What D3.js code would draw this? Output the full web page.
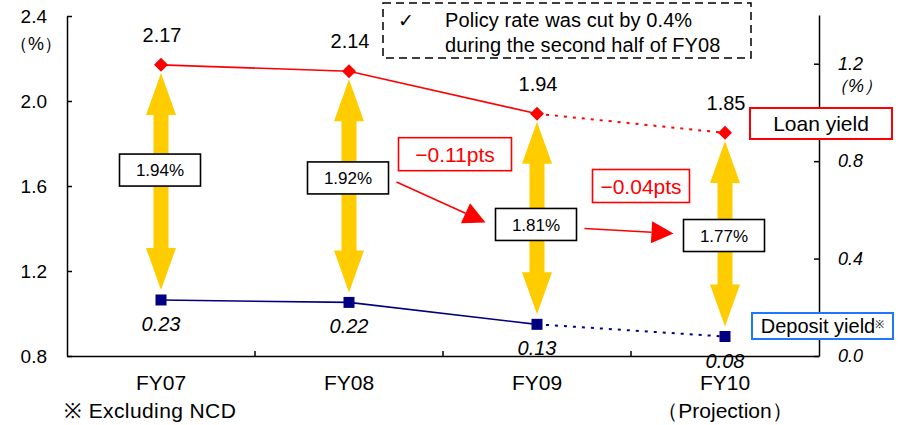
<!DOCTYPE html>
<html>
<head>
<meta charset="utf-8">
<script src="https://cdn.jsdelivr.net/npm/d3@7"></script>
<style>
  body { margin: 0; background: #fff; }
  svg { display: block; }
  text { font-family: "Liberation Sans", Arial, sans-serif; }
</style>
</head>
<body>
<svg id="chart" width="904" height="425"></svg>
<script>
// ---- data ----
const categories   = ["FY07", "FY08", "FY09", "FY10"];
const categorySub  = ["", "", "", "（Projection）"];
const loanYield    = [2.17, 2.14, 1.94, 1.85];   // left axis, %
const depositYield = [0.23, 0.22, 0.13, 0.08];   // right axis, %
const leftTicks    = [0.8, 1.2, 1.6, 2.0, 2.4];
const rightTicks   = [0.0, 0.4, 0.8, 1.2];
const projectionStart = 2;                        // segment from FY09 onward is a projection
// where each spread label sits, in left-axis units
const spreadLabelAt = [1.675, 1.638, 1.419, 1.367];
const noteLines = ["Policy rate was cut by 0.4%", "during the second half of FY08"];

const spread = loanYield.map((v, i) => +(v - depositYield[i]).toFixed(2));

const svg = d3.select("#chart");
const RED = "#ff0000", NAVY = "#000080", GOLD = "#ffcc00", BLUE = "#1e78ff";

// ---- scales ----
const x  = d3.scaleBand().domain(categories).range([67, 819]);
const cx = c => x(c) + x.bandwidth() / 2;
const yL = d3.scaleLinear().domain([0.8, 2.4]).range([356, 16]);
const yR = d3.scaleLinear().domain([0, 1.4]).range([356, 15]);

// ---- axes ----
const gL = svg.append("g").attr("transform", "translate(67,0)")
  .call(d3.axisLeft(yL).tickValues(leftTicks).tickFormat(d3.format(".1f"))
    .tickSizeInner(-5).tickSizeOuter(0).tickPadding(20));
gL.selectAll("text").style("font-size", "19px").attr("fill", "#000");
gL.selectAll("path,line").attr("stroke", "#000").attr("stroke-width", 1.5);
svg.append("text").attr("x", 36).attr("y", 50).attr("text-anchor", "middle")
  .style("font-size", "18px").text("（%）");

const gR = svg.append("g").attr("transform", "translate(819,0)")
  .call(d3.axisRight(yR).tickValues(rightTicks).tickFormat(d3.format(".1f"))
    .tickSizeInner(-5).tickSizeOuter(0).tickPadding(19));
gR.selectAll("text").style("font-size", "18px").style("font-style", "italic").attr("fill", "#000");
gR.selectAll("path,line").attr("stroke", "#000").attr("stroke-width", 1.5);
svg.append("text").attr("x", 856).attr("y", 92).attr("text-anchor", "middle")
  .style("font-size", "18px").style("font-style", "italic").text("（%）");

const gX = svg.append("g").attr("transform", "translate(0,356)")
  .call(d3.axisBottom(x).tickSize(0).tickPadding(19));
gX.selectAll("path").attr("stroke", "#000").attr("stroke-width", 1.5);
gX.selectAll("text").style("font-size", "21px").attr("fill", "#000");
// ticks at the category boundaries
gX.selectAll(".bound").data(categories.slice(1)).join("line")
  .attr("x1", d => x(d)).attr("x2", d => x(d)).attr("y1", 0).attr("y2", -5)
  .attr("stroke", "#000").attr("stroke-width", 1.5);
svg.selectAll(".sub").data(categories).join("text")
  .attr("x", d => cx(d)).attr("y", 418).attr("text-anchor", "middle")
  .style("font-size", "21px").text((d, i) => categorySub[i]);
svg.append("text").attr("x", 64).attr("y", 418).style("font-size", "21px")
  .style("letter-spacing", "0.4px").text("※ Excluding NCD");

// ---- lines ----
function drawSeries(vals, scale, color) {
  const pts = vals.map((v, i) => [cx(categories[i]), scale(v)]);
  const line = d3.line();
  svg.append("path").attr("d", line(pts.slice(0, projectionStart + 1)))
    .attr("fill", "none").attr("stroke", color).attr("stroke-width", 1.6);
  svg.append("path").attr("d", line(pts.slice(projectionStart)))
    .attr("fill", "none").attr("stroke", color).attr("stroke-width", 2)
    .attr("stroke-dasharray", "3,6");
  return pts;
}
const loanPts = drawSeries(loanYield, yL, RED);
const depPts  = drawSeries(depositYield, yR, NAVY);

// ---- yellow double arrows (loan to deposit spread) ----
function doubleArrow(xc, y1, y2) {
  const sw = 7.5, hw = 15, hl = 42;
  return d3.line()([
    [xc, y1], [xc + hw, y1 + hl], [xc + sw, y1 + hl], [xc + sw, y2 - hl], [xc + hw, y2 - hl],
    [xc, y2], [xc - hw, y2 - hl], [xc - sw, y2 - hl], [xc - sw, y1 + hl], [xc - hw, y1 + hl]
  ]) + "Z";
}
svg.selectAll(".spreadArrow").data(categories).join("path")
  .attr("d", (d, i) => doubleArrow(cx(d), loanPts[i][1] + 8, depPts[i][1] - 10))
  .attr("fill", GOLD);

// ---- markers ----
svg.selectAll(".loanMark").data(loanPts).join("path")
  .attr("transform", d => `translate(${d[0]},${d[1]}) rotate(45)`)
  .attr("d", d3.symbol(d3.symbolSquare, 98)).attr("fill", RED);
svg.selectAll(".depMark").data(depPts).join("path")
  .attr("transform", d => `translate(${d[0]},${d[1]})`)
  .attr("d", d3.symbol(d3.symbolSquare, 121)).attr("fill", NAVY);

// ---- value labels ----
svg.selectAll(".loanLbl").data(loanYield).join("text")
  .attr("x", (d, i) => loanPts[i][0] + 1).attr("y", (d, i) => loanPts[i][1] - 23)
  .attr("text-anchor", "middle").style("font-size", "20px").text(d => d.toFixed(2));
svg.selectAll(".depLbl").data(depositYield).join("text")
  .attr("x", (d, i) => depPts[i][0]).attr("y", (d, i) => depPts[i][1] + 31)
  .attr("text-anchor", "middle").style("font-size", "20px").style("font-style", "italic")
  .text(d => d.toFixed(2));

// ---- spread boxes ----
const boxW = 81, boxH = 32;
const boxes = categories.map((c, i) => ({ x: cx(c) - 1, y: yL(spreadLabelAt[i]) }));
const gB = svg.selectAll(".spreadBox").data(boxes).join("g")
  .attr("transform", d => `translate(${d.x},${d.y})`);
gB.append("rect").attr("x", -boxW / 2).attr("y", -boxH / 2).attr("width", boxW).attr("height", boxH)
  .attr("fill", "#fff").attr("stroke", "#000").attr("stroke-width", 1.6);
gB.append("text").attr("text-anchor", "middle").attr("dy", "0.36em")
  .style("font-size", "17px").text((d, i) => spread[i].toFixed(2) + "%");

// ---- change callouts between spread boxes ----
const changes = [1, 2].map(i => ({
  from: boxes[i], to: boxes[i + 1],
  delta: +(spread[i + 1] - spread[i]).toFixed(2)
}));
const calloutBox = [{ dx: 14, dy: -48, w: 113 }, { dx: 12, dy: -45, w: 97 }];
changes.forEach((ch, k) => {
  const x1 = ch.from.x + boxW / 2 + 8, y1 = ch.from.y + 4;
  const x2 = ch.to.x - boxW / 2 - 10,  y2 = ch.to.y - 2;
  const ang = Math.atan2(y2 - y1, x2 - x1);
  const hl = 22, hw = 11;
  const bx = x2 - hl * Math.cos(ang), by = y2 - hl * Math.sin(ang);
  svg.append("line").attr("x1", x1).attr("y1", y1).attr("x2", bx).attr("y2", by)
    .attr("stroke", RED).attr("stroke-width", 1.6);
  svg.append("path").attr("fill", RED).attr("d", d3.line()([
    [x2, y2],
    [bx - hw * Math.sin(ang), by + hw * Math.cos(ang)],
    [bx + hw * Math.sin(ang), by - hw * Math.cos(ang)]
  ]) + "Z");
  const mx = (x1 + x2) / 2 + calloutBox[k].dx, my = (y1 + y2) / 2 + calloutBox[k].dy;
  const w = calloutBox[k].w, h = 33;
  svg.append("rect").attr("x", mx - w / 2).attr("y", my - h / 2).attr("width", w).attr("height", h)
    .attr("fill", "#fff").attr("stroke", RED).attr("stroke-width", 1.6);
  svg.append("text").attr("x", mx).attr("y", my).attr("dy", "0.36em").attr("text-anchor", "middle")
    .attr("fill", RED).style("font-size", "21px")
    .text("\u2212" + Math.abs(ch.delta).toFixed(2) + "pts");
});

// ---- series name boxes ----
function nameBox(x0, y0, w, h, color, size) {
  svg.append("rect").attr("x", x0).attr("y", y0).attr("width", w).attr("height", h)
    .attr("fill", "#fff").attr("stroke", color).attr("stroke-width", 2);
  return svg.append("text").attr("x", x0 + w / 2).attr("y", y0 + h / 2).attr("dy", "0.36em")
    .attr("text-anchor", "middle").style("font-size", size + "px");
}
nameBox(750, 108, 142, 31, RED, 21).text("Loan yield");
const dep = nameBox(752, 313, 141, 26, BLUE, 20);
dep.append("tspan").text("Deposit yield");
dep.append("tspan").attr("dy", "-0.45em").style("font-size", "11px").text("※");

// ---- policy note ----
svg.append("rect").attr("x", 383).attr("y", 3).attr("width", 368).attr("height", 55)
  .attr("fill", "#fff").attr("stroke", "#000").attr("stroke-width", 1.5)
  .attr("stroke-dasharray", "8,5");
svg.append("text").attr("x", 398).attr("y", 27).style("font-size", "19px")
  .style("font-family", "DejaVu Sans").text("✓");
svg.selectAll(".note").data(noteLines).join("text")
  .attr("x", 445).attr("y", (d, i) => 27 + i * 25)
  .style("font-size", "20px").style("letter-spacing", "0.1px").text(d => d);
</script>
</body>
</html>
